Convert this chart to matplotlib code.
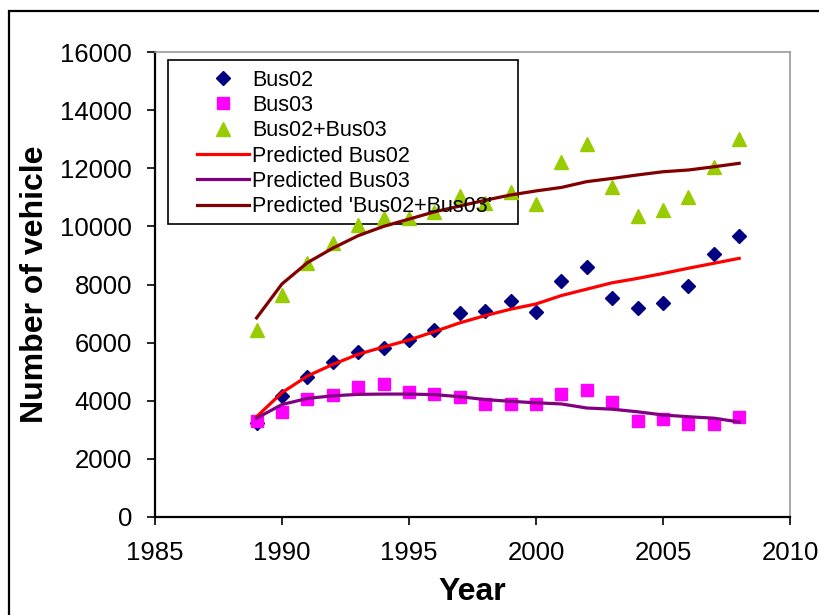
import matplotlib
matplotlib.use("Agg")
import matplotlib.pyplot as plt
from matplotlib.patches import Rectangle

plt.rcParams["font.family"] = ["Liberation Sans", "DejaVu Sans"]

# -- Donnees ----------------------------------------------------------------
years = [1989, 1990, 1991, 1992, 1993, 1994, 1995, 1996, 1997, 1998,
         1999, 2000, 2001, 2002, 2003, 2004, 2005, 2006, 2007, 2008]

bus02 = [3240, 4180, 4820, 5330, 5680, 5800, 6090, 6430, 7030, 7090,
         7420, 7040, 8120, 8600, 7550, 7190, 7360, 7960, 9050, 9680]
bus03 = [3300, 3600, 4060, 4190, 4470, 4590, 4290, 4230, 4120, 3890,
         3890, 3890, 4240, 4360, 3950, 3310, 3360, 3190, 3190, 3430]
bus_sum = [6430, 7640, 8730, 9420, 10050, 10300, 10300, 10500, 11030, 10800,
           11180, 10770, 12230, 12820, 11340, 10360, 10550, 11000, 12050, 13000]

pred_bus02 = [3450, 4280, 4850, 5250, 5600, 5850, 6090, 6380, 6680, 6930,
              7150, 7330, 7620, 7840, 8060, 8210, 8380, 8560, 8730, 8900]
pred_bus03 = [3400, 3870, 4080, 4170, 4220, 4230, 4230, 4210, 4140, 4040,
              3980, 3930, 3890, 3750, 3710, 3620, 3510, 3450, 3400, 3270]
pred_sum = [6850, 8020, 8750, 9250, 9680, 10000, 10250, 10500, 10700, 10900,
            11080, 11220, 11340, 11540, 11650, 11770, 11880, 11940, 12050, 12170]

x_ticks = [1985, 1990, 1995, 2000, 2005, 2010]
y_ticks = [0, 2000, 4000, 6000, 8000, 10000, 12000, 14000, 16000]

# -- Figure ------------------------------------------------------------------
fig = plt.figure(figsize=(8.2, 6.15), dpi=100)
ax = fig.add_axes([155 / 820, 1 - 517 / 615, 635 / 820, 465 / 615])

# cadre noir autour du graphique (style Excel)
fig.patches.append(Rectangle((9 / 820, -0.1), 1.2, 1 - 11 / 615 + 0.1,
                             transform=fig.transFigure, fill=False,
                             edgecolor="black", linewidth=1.6))

ax.plot(years, bus02, linestyle="none", marker="D", markersize=6.8,
        color="#000080", label="Bus02")
ax.plot(years, bus03, linestyle="none", marker="s", markersize=8,
        color="#FF00FF", label="Bus03")
ax.plot(years, bus_sum, linestyle="none", marker="^", markersize=10,
        color="#99CC00", label="Bus02+Bus03")
ax.plot(years, pred_bus02, color="#FF0000", linewidth=2.3, label="Predicted Bus02")
ax.plot(years, pred_bus03, color="#800080", linewidth=2.3, label="Predicted Bus03")
ax.plot(years, pred_sum, color="#800000", linewidth=2.3,
        label="Predicted 'Bus02+Bus03'")

ax.set_xlim(1985, 2010)
ax.set_ylim(0, 16000)
ax.set_xticks(x_ticks)
ax.set_yticks(y_ticks)
ax.tick_params(axis="both", direction="out", length=6, width=1.2,
               labelsize=18.5, color="black")
ax.tick_params(axis="x", pad=11)
ax.tick_params(axis="y", pad=10.5)

for side in ["left", "bottom"]:
    ax.spines[side].set_color("black")
    ax.spines[side].set_linewidth(1.6)
for side in ["top", "right"]:
    ax.spines[side].set_color("#999999")
    ax.spines[side].set_linewidth(1.2)

ax.set_xlabel("Year", fontsize=23, fontweight="bold", labelpad=9)
ax.set_ylabel("Number of vehicle", fontsize=23, fontweight="bold", labelpad=7)

# legende sans cadre + rectangle dessine a part (marges type Excel)
leg = ax.legend(loc="upper left", bbox_to_anchor=(0.066, 0.962),
                frameon=False, fontsize=15.5, handlelength=2.4,
                handletextpad=0.15, labelspacing=0.2, borderaxespad=0,
                borderpad=0)
ax.add_patch(Rectangle((13 / 635, 1 - 172 / 465), 350 / 635, 164 / 465,
                       transform=ax.transAxes, fill=False, edgecolor="black",
                       linewidth=1.2, zorder=1))

fig.savefig("out.png", dpi=100)
